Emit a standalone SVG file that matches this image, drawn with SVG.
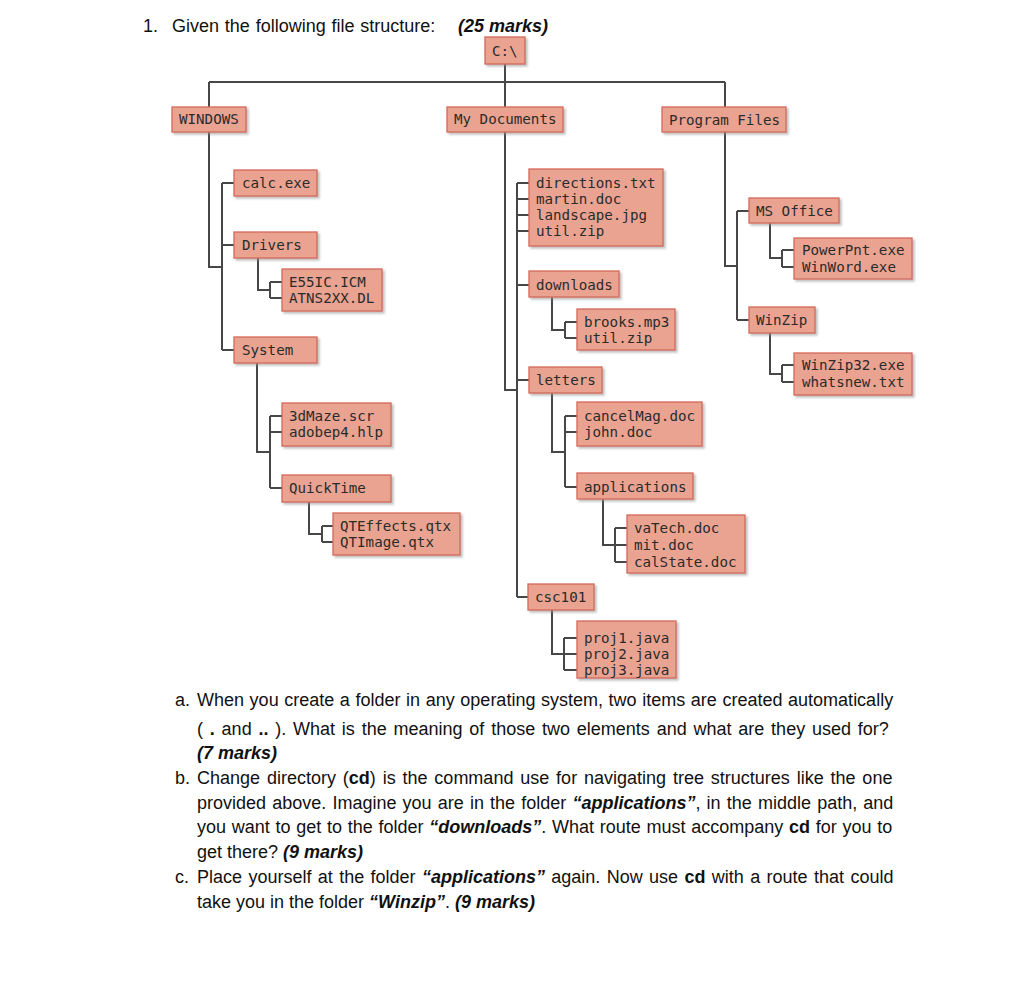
<svg xmlns="http://www.w3.org/2000/svg" width="1024" height="1006" viewBox="0 0 1024 1006">
<style>
.box{fill:#EAA391;stroke:#D4695A;stroke-width:1.3;filter:url(#sh)}
.t{font-family:"DejaVu Sans Mono","Liberation Mono",monospace;font-size:14.2px;fill:#2b2b2b}
.c{stroke:#474747;stroke-width:2;fill:none}
.q{font-family:"Liberation Sans",Arial,sans-serif;font-size:18px;fill:#111}
.bi{font-weight:bold;font-style:italic}
.b{font-weight:bold}
</style>
<defs>
<filter id="sh" x="-10%" y="-10%" width="130%" height="140%">
<feDropShadow dx="2" dy="2" stdDeviation="0.8" flood-color="#8a8a8a" flood-opacity="0.55"/>
</filter>
</defs>
<rect width="1024" height="1006" fill="#ffffff"/>

<g id="title">
<text class="q" x="143" y="32">1.</text>
<text class="q" x="172" y="32" style="word-spacing:0.8px">Given the following file structure:</text>
<text class="q bi" x="458" y="32">(25 marks)</text>
</g>

<g id="connectors">
<path class="c" d="M505 64V82M209 82H725M209 82V107M505 82V107M725 82V107"/>
<path class="c" d="M209 132V267H222M222 183V350M222 183H234M222 245H234M222 350H234"/>
<path class="c" d="M258 258V290H270M270 282V298M270 282H282M270 298H282"/>
<path class="c" d="M257 363V452H270M270 416V488M270 416H282M270 432H282M270 488H282"/>
<path class="c" d="M309 502V534H322M322 526V542M322 526H333M322 542H333"/>
<path class="c" d="M505 132V390H517M517 183V597M517 183H529M517 199H529M517 215H529M517 231H529M517 285H529M517 380H529M517 597H528"/>
<path class="c" d="M552 297V330H565M565 322V338M565 322H577M565 338H577"/>
<path class="c" d="M552 393V452H565M565 416V487M565 416H577M565 432H577M565 487H577"/>
<path class="c" d="M603 499V545H615M615 528V562M615 528H627M615 545H627M615 562H627"/>
<path class="c" d="M552 610V654H564M564 638V670M564 638H577M564 654H577M564 670H577"/>
<path class="c" d="M725 132V266H737M737 211V320M737 211H749M737 320H749"/>
<path class="c" d="M770 223V258H782M782 250V267M782 250H794M782 267H794"/>
<path class="c" d="M770 333V374H782M782 365V382M782 365H794M782 382H794"/>
</g>

<g id="n-root"><rect class="box" x="485" y="37" width="40" height="27"/><text class="t" x="492" y="56">C:\</text></g>
<g id="n-windows"><rect class="box" x="172" y="107" width="74" height="25"/><text class="t" x="179" y="124">WINDOWS</text></g>
<g id="n-mydocs"><rect class="box" x="447" y="107" width="116" height="25"/><text class="t" x="454" y="124">My Documents</text></g>
<g id="n-progfiles"><rect class="box" x="662" y="107" width="124" height="25"/><text class="t" x="669" y="125">Program Files</text></g>

<g id="n-calc"><rect class="box" x="234" y="170" width="83" height="26"/><text class="t" x="242" y="188">calc.exe</text></g>
<g id="n-drivers"><rect class="box" x="234" y="232" width="83" height="26"/><text class="t" x="242" y="250">Drivers</text></g>
<g id="n-driverfiles"><rect class="box" x="282" y="269" width="100" height="42"/><text class="t" x="289" y="287">E55IC.ICM</text><text class="t" x="289" y="303">ATNS2XX.DL</text></g>
<g id="n-system"><rect class="box" x="234" y="337" width="83" height="26"/><text class="t" x="242" y="355">System</text></g>
<g id="n-sysfiles"><rect class="box" x="282" y="403" width="109" height="43"/><text class="t" x="289" y="421">3dMaze.scr</text><text class="t" x="289" y="437">adobep4.hlp</text></g>
<g id="n-quicktime"><rect class="box" x="282" y="475" width="109" height="27"/><text class="t" x="289" y="493">QuickTime</text></g>
<g id="n-qtfiles"><rect class="box" x="333" y="513" width="127" height="42"/><text class="t" x="340" y="531">QTEffects.qtx</text><text class="t" x="340" y="547">QTImage.qtx</text></g>

<g id="n-docfiles"><rect class="box" x="529" y="169" width="134" height="77"/><text class="t" x="536" y="188">directions.txt</text><text class="t" x="536" y="204">martin.doc</text><text class="t" x="536" y="220">landscape.jpg</text><text class="t" x="536" y="236">util.zip</text></g>
<g id="n-downloads"><rect class="box" x="529" y="271" width="90" height="26"/><text class="t" x="536" y="290">downloads</text></g>
<g id="n-dlfiles"><rect class="box" x="577" y="309" width="98" height="41"/><text class="t" x="584" y="327">brooks.mp3</text><text class="t" x="584" y="343">util.zip</text></g>
<g id="n-letters"><rect class="box" x="529" y="367" width="73" height="26"/><text class="t" x="536" y="385">letters</text></g>
<g id="n-letterfiles"><rect class="box" x="577" y="402" width="125" height="44"/><text class="t" x="584" y="421">cancelMag.doc</text><text class="t" x="584" y="437">john.doc</text></g>
<g id="n-applications"><rect class="box" x="577" y="473" width="116" height="26"/><text class="t" x="584" y="492">applications</text></g>
<g id="n-appfiles"><rect class="box" x="627" y="515" width="118" height="58"/><text class="t" x="634" y="533">vaTech.doc</text><text class="t" x="634" y="550">mit.doc</text><text class="t" x="634" y="567">calState.doc</text></g>
<g id="n-csc101"><rect class="box" x="528" y="584" width="66" height="26"/><text class="t" x="535" y="602">csc101</text></g>
<g id="n-projfiles"><rect class="box" x="577" y="621" width="99" height="57"/><text class="t" x="584" y="643">proj1.java</text><text class="t" x="584" y="659">proj2.java</text><text class="t" x="584" y="675">proj3.java</text></g>

<g id="n-msoffice"><rect class="box" x="749" y="198" width="90" height="25"/><text class="t" x="756" y="216">MS Office</text></g>
<g id="n-officefiles"><rect class="box" x="794" y="238" width="118" height="41"/><text class="t" x="802" y="255">PowerPnt.exe</text><text class="t" x="802" y="272">WinWord.exe</text></g>
<g id="n-winzip"><rect class="box" x="749" y="307" width="66" height="26"/><text class="t" x="756" y="325">WinZip</text></g>
<g id="n-winzipfiles"><rect class="box" x="794" y="353" width="118" height="42"/><text class="t" x="802" y="370">WinZip32.exe</text><text class="t" x="802" y="387">whatsnew.txt</text></g>

<g id="questions">
<text class="q" x="175" y="706">a.</text>
<text class="q" x="197" y="706" style="word-spacing:0.6px">When you create a folder in any operating system, two items are created automatically</text>
<text class="q" x="197" y="735" style="word-spacing:1.8px">(<tspan class="b"> . </tspan>and<tspan class="b"> .. </tspan>). What is the meaning of those two elements and what are they used for?</text>
<text class="q bi" x="197" y="759">(7 marks)</text>
<text class="q" x="175" y="784">b.</text>
<text class="q" x="197" y="784" style="word-spacing:1.85px">Change directory (<tspan class="b">cd</tspan>) is the command use for navigating tree structures like the one</text>
<text class="q" x="197" y="809" style="word-spacing:1.15px">provided above. Imagine you are in the folder <tspan class="bi">“applications”</tspan>, in the middle path, and</text>
<text class="q" x="197" y="833" style="word-spacing:0.73px">you want to get to the folder <tspan class="bi">“downloads”</tspan>. What route must accompany <tspan class="b">cd</tspan> for you to</text>
<text class="q" x="197" y="858">get there? <tspan class="bi">(9 marks)</tspan></text>
<text class="q" x="175" y="883">c.</text>
<text class="q" x="197" y="883" style="word-spacing:1.36px">Place yourself at the folder <tspan class="bi">“applications”</tspan> again. Now use <tspan class="b">cd</tspan> with a route that could</text>
<text class="q" x="197" y="908">take you in the folder <tspan class="bi">“Winzip”</tspan>. <tspan class="bi">(9 marks)</tspan></text>
</g>
</svg>
